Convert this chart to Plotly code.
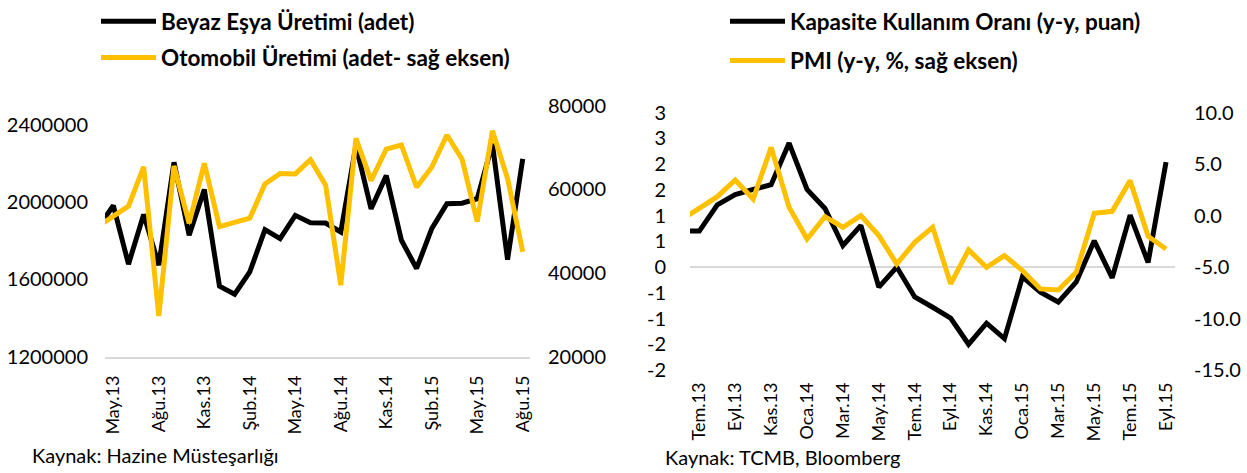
import plotly.graph_objects as go

# ---------------- Left chart data ----------------
left_months = ["Nis.13", "May.13", "Haz.13", "Tem.13", "Ağu.13", "Eyl.13", "Eki.13", "Kas.13", "Ara.13",
               "Oca.14", "Şub.14", "Mar.14", "Nis.14", "May.14", "Haz.14", "Tem.14", "Ağu.14", "Eyl.14",
               "Eki.14", "Kas.14", "Ara.14", "Oca.15", "Şub.15", "Mar.15", "Nis.15", "May.15", "Haz.15",
               "Tem.15", "Ağu.15"]
beyaz_esya = [1870000, 1983000, 1679000, 1937000, 1674000, 2207000, 1829000, 2066000, 1565000,
              1524000, 1639000, 1858000, 1811000, 1932000, 1894000, 1892000, 1846000, 2293000,
              1966000, 2138000, 1803000, 1657000, 1863000, 1992000, 1995000, 2018000, 2302000,
              1703000, 2225000]
otomobil = [51200, 53600, 56000, 65400, 29700, 65600, 51900, 66200, 51100,
            52100, 53100, 61300, 63800, 63700, 67100, 61000, 37100, 72200,
            62100, 69600, 70600, 60500, 65300, 73000, 67200, 52300, 74000,
            62600, 45100]
left_xticks = ["May.13", "Ağu.13", "Kas.13", "Şub.14", "May.14", "Ağu.14", "Kas.14", "Şub.15", "May.15", "Ağu.15"]
left_y_ticks = [1200000, 1600000, 2000000, 2400000]
left_y2_ticks = [20000, 40000, 60000, 80000]

# ---------------- Right chart data ----------------
right_months = ["Haz.13", "Tem.13", "Ağu.13", "Eyl.13", "Eki.13", "Kas.13", "Ara.13", "Oca.14", "Şub.14",
                "Mar.14", "Nis.14", "May.14", "Haz.14", "Tem.14", "Ağu.14", "Eyl.14", "Eki.14", "Kas.14",
                "Ara.14", "Oca.15", "Şub.15", "Mar.15", "Nis.15", "May.15", "Haz.15", "Tem.15", "Ağu.15",
                "Eyl.15"]
kapasite = [0.70, 0.70, 1.21, 1.41, 1.51, 1.60, 2.41, 1.51, 1.14,
            0.42, 0.81, -0.39, 0.00, -0.58, -0.78, -0.99, -1.50, -1.09,
            -1.39, -0.19, -0.49, -0.68, -0.29, 0.51, -0.21, 1.01, 0.09,
            2.04]
pmi = [-0.40, 0.75, 1.84, 3.46, 1.62, 6.63, 0.81, -2.27, -0.10,
       -1.13, 0.00, -1.94, -4.69, -2.59, -1.13, -6.63, -3.33, -5.02,
       -3.88, -5.34, -7.12, -7.22, -5.50, 0.22, 0.42, 3.40, -2.01,
       -3.24]
right_xticks = ["Tem.13", "Eyl.13", "Kas.13", "Oca.14", "Mar.14", "May.14", "Tem.14", "Eyl.14",
                "Kas.14", "Oca.15", "Mar.15", "May.15", "Tem.15", "Eyl.15"]
right_y_tickvals = [3, 2.5, 2, 1.5, 1, 0.5, 0, -0.5, -1, -1.5, -2]
right_y_ticktext = ["3", "3", "2", "2", "1", "1", "0", "-1", "-1", "-2", "-2"]
right_y2_tickvals = [10, 5, 0, -5, -10, -15]
right_y2_ticktext = ["10.0", "5.0", "0.0", "-5.0", "-10.0", "-15.0"]

BLACK = "#000000"
GOLD = "#FFC000"
FONT = "Lato"
W, H = 1247, 473

fig = go.Figure()
fig.add_trace(go.Scatter(x=left_months, y=beyaz_esya, mode="lines", name="Beyaz Eşya Üretimi (adet)",
                         line=dict(color=BLACK, width=5), xaxis="x", yaxis="y",
                         legend="legend", legendgroup="a"))
fig.add_trace(go.Scatter(x=left_months, y=otomobil, mode="lines", name="Otomobil Üretimi (adet- sağ eksen)",
                         line=dict(color=GOLD, width=5), xaxis="x", yaxis="y2",
                         legend="legend", legendgroup="b"))
fig.add_trace(go.Scatter(x=right_months, y=kapasite, mode="lines", name="Kapasite Kullanım Oranı (y-y, puan)",
                         line=dict(color=BLACK, width=5), xaxis="x2", yaxis="y3",
                         legend="legend2", legendgroup="c"))
fig.add_trace(go.Scatter(x=right_months, y=pmi, mode="lines", name="PMI (y-y, %, sağ eksen)",
                         line=dict(color=GOLD, width=5), xaxis="x2", yaxis="y4",
                         legend="legend2", legendgroup="d"))

xtickfont = dict(family=FONT, size=18, color="#000000")
ytickfont = dict(family=FONT, size=20, color="#000000")
legfont = dict(family=FONT, size=22.5, color="#000000", weight="bold")

fig.update_layout(
    width=W, height=H,
    margin=dict(l=0, r=0, t=0, b=0, autoexpand=False),
    paper_bgcolor="white", plot_bgcolor="white",
    font=dict(family=FONT, size=18, color="#000000"),
    xaxis=dict(domain=[105 / W, 530 / W], anchor="y", type="category", range=[0.45, 28.48],
               tickvals=left_xticks, ticktext=left_xticks, tickangle=-90, tickfont=xtickfont,
               showgrid=False, zeroline=False, showline=True, linecolor="#D9D9D9", linewidth=1.5,
               ticks="", ticklabelstandoff=10, automargin=False),
    yaxis=dict(domain=[1 - 356.7 / H, 1 - 105.7 / H], anchor="x", range=[1200000, 2500000],
               tickvals=left_y_ticks, tickformat="d", tickfont=ytickfont, showgrid=False,
               zeroline=False, ticks="", ticklabelstandoff=16, automargin=False),
    yaxis2=dict(overlaying="y", anchor="x", side="right", range=[20000, 80000],
                tickvals=left_y2_ticks, tickformat="d", tickfont=ytickfont, showgrid=False,
                zeroline=False, ticks="", ticklabelstandoff=17, automargin=False),
    xaxis2=dict(domain=[690 / W, 1175 / W], anchor="y3", type="category", range=[0.48, 27.5],
                tickvals=right_xticks, ticktext=right_xticks, tickangle=-90, tickfont=xtickfont,
                showgrid=False, zeroline=False, showline=False, ticks="", ticklabelstandoff=8,
                automargin=False),
    yaxis3=dict(domain=[1 - 370 / H, 1 - 112.7 / H], anchor="x2", range=[-2, 3],
                tickvals=right_y_tickvals, ticktext=right_y_ticktext, tickfont=ytickfont,
                showgrid=False, zeroline=True, zerolinecolor="#D9D9D9", zerolinewidth=1.5,
                ticks="", ticklabelstandoff=23, automargin=False),
    yaxis4=dict(overlaying="y3", anchor="x2", side="right", range=[-15, 10],
                tickvals=right_y2_tickvals, ticktext=right_y2_ticktext, tickfont=ytickfont,
                showgrid=False, zeroline=False, ticks="", ticklabelstandoff=18, automargin=False),
    legend=dict(x=96 / W, y=1 - 0 / H, xanchor="left", yanchor="top", orientation="v",
                font=legfont, bgcolor="rgba(0,0,0,0)", traceorder="grouped", tracegroupgap=4,
                itemwidth=55),
    legend2=dict(x=725 / W, y=1 - 0 / H, xanchor="left", yanchor="top", orientation="v",
                 font=legfont, bgcolor="rgba(0,0,0,0)", traceorder="grouped", tracegroupgap=7,
                 itemwidth=55),
    annotations=[
        dict(text="Kaynak: Hazine Müsteşarlığı", x=30 / W, y=1 - 455 / H, xref="paper", yref="paper",
             xanchor="left", yanchor="middle", showarrow=False, font=dict(family=FONT, size=20, color="#000000")),
        dict(text="Kaynak: TCMB, Bloomberg", x=663 / W, y=1 - 457 / H, xref="paper", yref="paper",
             xanchor="left", yanchor="middle", showarrow=False, font=dict(family=FONT, size=20, color="#000000")),
    ],
)

fig.write_html("out.html", config={"displayModeBar": False},
               post_script="document.body.style.margin='0';document.body.style.overflow='hidden';")
